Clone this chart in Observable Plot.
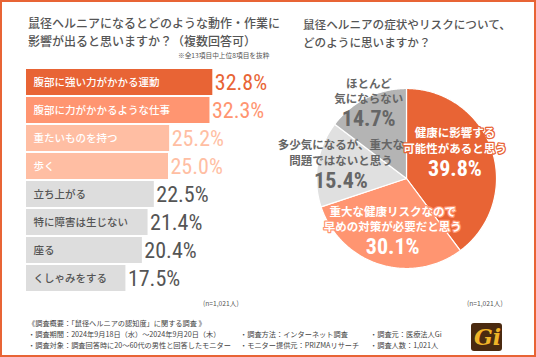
<!DOCTYPE html>
<html><head><meta charset="utf-8">
<script src="https://cdn.jsdelivr.net/npm/d3@7"></script>
<script src="https://cdn.jsdelivr.net/npm/@observablehq/plot@0.6"></script>
<style>
html,body{margin:0;padding:0;background:#fff;}
#frame{position:relative;width:536px;height:357px;overflow:hidden;font-family:"Noto Sans CJK JP","Noto Sans",sans-serif;color:#555;background:#fff;}
#border{position:absolute;left:0;top:0;width:536px;height:357px;box-sizing:border-box;border:2px solid #E86435;pointer-events:none;z-index:10;}
.abs{position:absolute;white-space:nowrap;}
.title{font-size:12px;line-height:12px;font-weight:500;color:#555;}
.small{font-size:6.7px;line-height:8px;color:#555;}
.foot{font-size:7.2px;color:#444;line-height:9px;}
#logo{position:absolute;left:471px;top:323px;width:31px;height:28px;background:#4A2A10;border-radius:3px;overflow:hidden;}
#logo span{position:absolute;left:3px;top:1px;font-family:"DejaVu Serif",serif;font-style:italic;font-weight:bold;font-size:22px;line-height:26px;color:#F0B428;}
.plot{position:absolute;}
</style>
</head><body>
<div id="frame">
  <div class="abs title" style="left:28px;top:16.8px;">鼠径ヘルニアになるとどのような動作・作業に</div>
  <div class="abs title" style="left:28px;top:34.6px;">影響が出ると思いますか？（複数回答可）</div>
  <div class="abs small" style="left:178px;top:50.5px;">※全13項目中上位8項目を抜粋</div>
  <div class="abs title" style="left:303px;top:18.4px;font-size:11.6px;">鼠径ヘルニアの症状やリスクについて、</div>
  <div class="abs title" style="left:303px;top:35.6px;font-size:11.6px;">どのように思いますか？</div>
  <div id="bars" class="plot" style="left:0;top:60px;"></div>
  <div id="pie" class="plot" style="left:270px;top:60px;"></div>
  <div class="abs small" style="left:203px;top:299px;">(n=1,021人)</div>
  <div class="abs small" style="left:467px;top:299px;">(n=1,021人)</div>
  <div class="abs foot" style="left:28px;top:319px;">《調査概要：「鼠径ヘルニアの認知度」に関する調査 》</div>
  <div class="abs foot" style="left:28px;top:330px;">・調査期間：2024年9月18日（水）～2024年9月20日（木）</div>
  <div class="abs foot" style="left:240px;top:330px;">・調査方法：インターネット調査</div>
  <div class="abs foot" style="left:370px;top:330px;">・調査元：医療法人Gi</div>
  <div class="abs foot" style="left:28px;top:341px;">・調査対象：調査回答時に20～60代の男性と回答したモニター</div>
  <div class="abs foot" style="left:240px;top:341px;">・モニター提供元：PRIZMAリサーチ</div>
  <div class="abs foot" style="left:370px;top:341px;">・調査人数：1,021人</div>
  <div id="logo"><span>Gi</span></div>
  <div id="border"></div>
</div>
<script>
// ---- data ----
const barCats = ["腹部に強い力がかかる運動","腹部に力がかかるような仕事","重たいものを持つ","歩く","立ち上がる","特に障害は生じない","座る","くしゃみをする"];
const barValues = [32.8, 32.3, 25.2, 25.0, 22.5, 21.4, 20.4, 17.5];

const pieCats = ["健康に影響する\n可能性があると思う","重大な健康リスクなので\n早めの対策が必要だと思う","多少気になるが、重大な\n問題ではないと思う","ほとんど\n気にならない"];
const pieValues = [39.8, 30.1, 15.4, 14.7];

// ---- styles / layout ----
const barFill = ["#E86435","#FF9571","#FFBEA3","#FFBEA3","#DDDDDD","#DDDDDD","#DDDDDD","#DDDDDD"];
const barText = ["#fff","#fff","#fff","#fff","#555","#555","#555","#555"];
const valText = ["#E86435","#FF9571","#FFBEA3","#FFBEA3","#555","#555","#555","#555"];
const pieFill = ["#E86435","#FF9571","#E0E0E0","#B4B4B4"];
const pieText = ["#fff","#fff","#666","#666"];
const pieLabelR = [0.62, 0.58, 0.75, 0.96];      // label radius (fraction of pie radius)
const pieLabelPos = [0.42, 0.48, 0.58, 0.51];    // label angle position within each slice
const numFont = '"Liberation Sans Narrow","Roboto Condensed","DejaVu Sans Condensed",sans-serif';
const jpFont = '"Noto Sans CJK JP","Noto Sans",sans-serif';

// ---- bar chart ----
const bars = barCats.map((c, i) => ({cat: c, value: barValues[i], i}));
const barPlot = Plot.plot({
  width: 270, height: 240,
  marginLeft: 26, marginRight: 16.8, marginTop: 3.3, marginBottom: 3.2,
  x: {domain: [0, 40], axis: null},
  y: {domain: barCats, axis: null, padding: 0.06},
  color: {type: "identity"},
  style: {overflow: "visible", background: "transparent", fontFamily: jpFont},
  marks: [
    Plot.barX(bars, {x: "value", y: "cat", fill: d => barFill[d.i]}),
    Plot.text(bars, {x: d => 0, y: "cat", text: "cat", dx: 7, textAnchor: "start", fill: d => barText[d.i], fontSize: 10.5, fontWeight: 500, fontFamily: jpFont}),
    Plot.text(bars, {x: "value", y: "cat", text: d => d.value.toFixed(1) + "%", dx: 2, dy: 0.5, textAnchor: "start", fill: d => valText[d.i], fontSize: 22, fontFamily: numFont})
  ]
});
document.getElementById("bars").appendChild(barPlot);

// ---- pie chart ----
const arcs = d3.pie().sort(null).value(d => d)(pieValues);
const sliceMarks = arcs.map((a, i) => {
  const pts = [{x: 0, y: 0}];
  const n = Math.max(2, Math.ceil((a.endAngle - a.startAngle) / 0.01));
  for (let k = 0; k <= n; k++) {
    const t = a.startAngle + (a.endAngle - a.startAngle) * k / n;
    pts.push({x: Math.sin(t), y: Math.cos(t)});
  }
  pts.push({x: 0, y: 0});
  return Plot.line(pts, {x: "x", y: "y", fill: pieFill[i], stroke: "#fff", strokeWidth: 1.2, strokeLinejoin: "round", curve: "linear"});
});
const labels = arcs.map((a, i) => {
  const m = a.startAngle + (a.endAngle - a.startAngle) * pieLabelPos[i];
  return {x: pieLabelR[i] * Math.sin(m), y: pieLabelR[i] * Math.cos(m), label: pieCats[i], value: pieValues[i].toFixed(1) + "%", i};
});
const piePlot = Plot.plot({
  width: 266, height: 240,
  marginLeft: 46, marginRight: 40, marginTop: 28, marginBottom: 32,
  x: {domain: [-1, 1], axis: null},
  y: {domain: [-1, 1], axis: null},
  color: {type: "identity"},
  style: {overflow: "visible", background: "transparent", fontFamily: jpFont},
  marks: [
    ...sliceMarks,
    Plot.text(labels, {x: "x", y: "y", text: "label", dy: -10.5, lineHeight: 1.35, fill: d => pieText[d.i], stroke: d => d.i < 2 ? pieFill[d.i] : "none", strokeWidth: 2.5, fontSize: 11.5, fontWeight: "bold", fontFamily: jpFont}),
    Plot.text(labels, {x: "x", y: "y", text: "value", dy: 18.5, fill: d => pieText[d.i], fontSize: 22, fontWeight: "bold", fontFamily: numFont})
  ]
});
document.getElementById("pie").appendChild(piePlot);
</script>
</body></html>
